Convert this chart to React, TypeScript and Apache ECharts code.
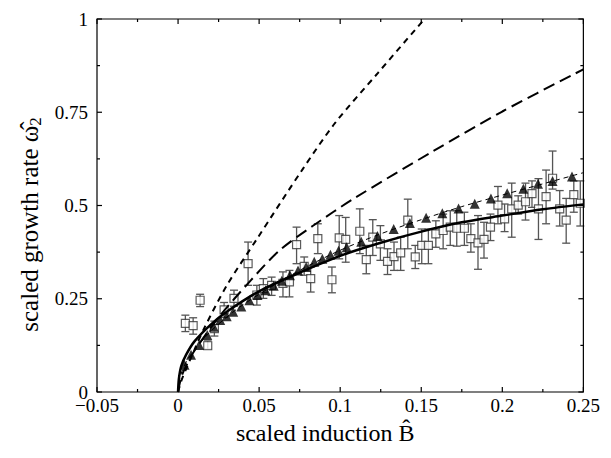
import React, { useEffect, useRef } from "react";
import * as echarts from "echarts";

// ---- data ----
const xTicks = [-0.05, 0, 0.05, 0.1, 0.15, 0.2, 0.25];
const yTicks = [0, 0.25, 0.5, 0.75, 1];

// measured growth rate (open squares) with error bars
const sqB = [0.0045, 0.0093, 0.0136, 0.0183, 0.0224, 0.0284, 0.0345, 0.0432, 0.0486, 0.0526, 0.0577, 0.0647, 0.0687, 0.0731, 0.0778, 0.0818, 0.0862, 0.0949, 0.0994, 0.1034, 0.1121, 0.1161, 0.1201, 0.1248, 0.1292, 0.1332, 0.1373, 0.1417, 0.1463, 0.1503, 0.1544, 0.159, 0.1635, 0.1679, 0.1719, 0.1766, 0.1806, 0.185, 0.1887, 0.1927, 0.1973, 0.2014, 0.2058, 0.2098, 0.2143, 0.2183, 0.2223, 0.227, 0.231, 0.2354, 0.2394, 0.2441, 0.2481];
const sqW = [0.184, 0.178, 0.246, 0.124, 0.170, 0.220, 0.251, 0.344, 0.260, 0.277, 0.286, 0.291, 0.295, 0.395, 0.337, 0.304, 0.411, 0.301, 0.413, 0.409, 0.431, 0.355, 0.415, 0.397, 0.350, 0.363, 0.373, 0.461, 0.362, 0.393, 0.393, 0.424, 0.433, 0.442, 0.439, 0.439, 0.411, 0.400, 0.409, 0.442, 0.501, 0.464, 0.491, 0.501, 0.510, 0.532, 0.491, 0.524, 0.573, 0.491, 0.461, 0.529, 0.506];
const sqLo = [0.162, 0.155, 0.229, 0.115, 0.150, 0.200, 0.230, 0.286, 0.233, 0.251, 0.259, 0.255, 0.255, 0.344, 0.313, 0.268, 0.371, 0.266, 0.357, 0.348, 0.371, 0.317, 0.366, 0.353, 0.315, 0.326, 0.326, 0.384, 0.331, 0.344, 0.344, 0.388, 0.384, 0.393, 0.391, 0.393, 0.375, 0.329, 0.359, 0.406, 0.451, 0.430, 0.415, 0.477, 0.461, 0.495, 0.409, 0.451, 0.544, 0.445, 0.399, 0.482, 0.445];
const sqHi = [0.206, 0.199, 0.262, 0.137, 0.190, 0.240, 0.273, 0.402, 0.286, 0.304, 0.308, 0.322, 0.326, 0.442, 0.362, 0.335, 0.451, 0.335, 0.473, 0.468, 0.491, 0.393, 0.462, 0.446, 0.384, 0.402, 0.415, 0.517, 0.393, 0.437, 0.437, 0.459, 0.477, 0.486, 0.486, 0.482, 0.451, 0.473, 0.455, 0.477, 0.551, 0.504, 0.560, 0.526, 0.560, 0.566, 0.572, 0.595, 0.646, 0.540, 0.519, 0.566, 0.566];

// simulation (filled triangles)
const triB = [0.004, 0.008, 0.013, 0.018, 0.022, 0.026, 0.03, 0.034, 0.039, 0.044, 0.049, 0.054, 0.059, 0.064, 0.069, 0.074, 0.079, 0.084, 0.089, 0.094, 0.099, 0.104, 0.113, 0.123, 0.133, 0.143, 0.153, 0.163, 0.173, 0.183, 0.193, 0.203, 0.213, 0.222, 0.231, 0.243];
const triW = [0.073, 0.100, 0.126, 0.153, 0.175, 0.193, 0.203, 0.215, 0.229, 0.246, 0.260, 0.273, 0.285, 0.298, 0.313, 0.326, 0.335, 0.349, 0.357, 0.368, 0.379, 0.388, 0.403, 0.418, 0.437, 0.453, 0.467, 0.479, 0.492, 0.505, 0.519, 0.533, 0.545, 0.558, 0.566, 0.578];

// thin dashed curve through the triangles
const thinB = [0, 0.001, 0.003, 0.006, 0.01, 0.02, 0.035, 0.05, 0.075, 0.1, 0.125, 0.15, 0.175, 0.2, 0.225, 0.25];
const thinW = [0, 0.035, 0.062, 0.088, 0.112, 0.162, 0.218, 0.262, 0.326, 0.38, 0.424, 0.462, 0.497, 0.528, 0.558, 0.588];

// solid thick curve
const solidB = [0, 0.0005, 0.002, 0.005, 0.01, 0.02, 0.03, 0.05, 0.075, 0.1, 0.125, 0.15, 0.175, 0.2, 0.225, 0.25];
const solidW = [0, 0.035, 0.07, 0.1, 0.135, 0.18, 0.215, 0.27, 0.32, 0.365, 0.4, 0.43, 0.455, 0.473, 0.49, 0.503];

// short-dash steep curve
const shortB = [0, 0.002, 0.005, 0.01, 0.016, 0.03, 0.0486, 0.0768, 0.097, 0.1232, 0.152];
const shortW = [0, 0.03, 0.062, 0.112, 0.17, 0.285, 0.41, 0.597, 0.722, 0.855, 1.0];

// long-dash curve
const longB = [0, 0.002, 0.005, 0.01, 0.025, 0.045, 0.0627, 0.083, 0.109, 0.1575, 0.2, 0.25];
const longW = [0, 0.04, 0.07, 0.11, 0.2, 0.3, 0.38, 0.445, 0.52, 0.646, 0.752, 0.865];

const FONT = "Liberation Serif";

const zip = (a: number[], b: number[]) => a.map((v, i) => [v, b[i]]);

export default function App() {
  const ref = useRef<HTMLDivElement>(null);
  useEffect(() => {
    if (!ref.current) return;
    const chart = echarts.init(ref.current, undefined, { renderer: "svg" });
    const fmtX = (v: number) => {
      const r = Math.round(v * 1000) / 1000;
      return r < 0 ? "\u2212" + Math.abs(r) : String(r);
    };
    const fmtY = (v: number) => String(Math.round(v * 1000) / 1000);
    const axisCommon = {
      axisLine: { show: false, onZero: false },
      axisTick: { show: false },
      minorTick: { show: false },
      splitLine: { show: false },
    };
    const errData = sqB.map((b, i) => [b, sqLo[i], sqHi[i]]);

    // frame with mirrored inward ticks, drawn through the axes' own scales
    const frameRender = (params: any, api: any) => {
      const xa = xTicks[0], xb = xTicks[xTicks.length - 1];
      const ya = yTicks[0], yb = yTicks[yTicks.length - 1];
      const bl = api.coord([xa, ya]);
      const tr = api.coord([xb, yb]);
      const st = { stroke: "#000", lineWidth: 1.2, fill: "none" };
      const kids: any[] = [
        { type: "rect", shape: { x: bl[0], y: tr[1], width: tr[0] - bl[0], height: bl[1] - tr[1] }, style: st },
      ];
      const xVals: [number, number][] = [];
      xTicks.forEach((v, i) => {
        xVals.push([v, 5]);
        if (i < xTicks.length - 1) xVals.push([(v + xTicks[i + 1]) / 2, 3]);
      });
      xVals.forEach(([v, len]) => {
        const px = api.coord([v, ya])[0];
        kids.push({ type: "line", shape: { x1: px, y1: bl[1], x2: px, y2: bl[1] - len }, style: st });
        kids.push({ type: "line", shape: { x1: px, y1: tr[1], x2: px, y2: tr[1] + len }, style: st });
      });
      const yVals: [number, number][] = [];
      yTicks.forEach((v, i) => {
        yVals.push([v, 5]);
        if (i < yTicks.length - 1) yVals.push([(v + yTicks[i + 1]) / 2, 3]);
      });
      yVals.forEach(([v, len]) => {
        const py = api.coord([xa, v])[1];
        kids.push({ type: "line", shape: { x1: bl[0], y1: py, x2: bl[0] + len, y2: py }, style: st });
        kids.push({ type: "line", shape: { x1: tr[0], y1: py, x2: tr[0] - len, y2: py }, style: st });
      });
      return { type: "group", children: kids };
    };

    chart.setOption({
      animation: false,
      backgroundColor: "#fff",
      grid: { left: 89, right: 10, top: 11, bottom: 56, containLabel: false },
      xAxis: {
        type: "value",
        min: xTicks[0],
        max: xTicks[xTicks.length - 1],
        interval: 0.05,
        position: "bottom",
        ...axisCommon,
        axisLabel: { formatter: fmtX, color: "#000", fontFamily: FONT, fontSize: 19, margin: 4 },
        name: "scaled induction B\u0302",
        nameLocation: "middle",
        nameGap: 29,
        nameTextStyle: { color: "#000", fontFamily: FONT, fontSize: 24, padding: [0, 30, 0, 0] },
      },
      yAxis: {
        type: "value",
        min: yTicks[0],
        max: yTicks[yTicks.length - 1],
        interval: 0.25,
        position: "left",
        ...axisCommon,
        axisLabel: { formatter: fmtY, color: "#000", fontFamily: FONT, fontSize: 19, margin: 9 },
        name: "{a|scaled growth rate \u03C9\u0302}{s|2}",
        nameLocation: "middle",
        nameGap: 52,
        nameTextStyle: {
          color: "#000",
          fontFamily: FONT,
          fontSize: 25,
          padding: [0, 38, 0, 0],
          rich: {
            a: { fontFamily: FONT, fontSize: 25, color: "#000" },
            s: { fontFamily: FONT, fontSize: 17, color: "#000", padding: [12, 0, 0, 0] },
          },
        },
      },
      series: [
        {
          type: "custom",
          name: "frame",
          z: 10,
          silent: true,
          clip: false,
          data: [[0, 0]],
          renderItem: frameRender,
        },
        {
          type: "custom",
          name: "errors",
          z: 2,
          data: errData,
          renderItem: (params: any, api: any) => {
            const x = api.value(0);
            const lo = api.coord([x, api.value(1)]);
            const hi = api.coord([x, api.value(2)]);
            const hw = 4;
            const st = { stroke: "#555", lineWidth: 1.3 };
            return {
              type: "group",
              children: [
                { type: "line", shape: { x1: lo[0], y1: lo[1], x2: hi[0], y2: hi[1] }, style: st },
                { type: "line", shape: { x1: lo[0] - hw, y1: lo[1], x2: lo[0] + hw, y2: lo[1] }, style: st },
                { type: "line", shape: { x1: hi[0] - hw, y1: hi[1], x2: hi[0] + hw, y2: hi[1] }, style: st },
              ],
            };
          },
        },
        {
          type: "scatter",
          name: "experiment",
          z: 3,
          symbol: "rect",
          symbolSize: 8,
          itemStyle: { color: "#fff", borderColor: "#333", borderWidth: 1.2 },
          data: zip(sqB, sqW),
        },
        {
          type: "line",
          name: "short dash",
          z: 4,
          showSymbol: false,
          smooth: 0.3,
          lineStyle: { color: "#000", width: 2, type: [6, 5] },
          data: zip(shortB, shortW),
        },
        {
          type: "line",
          name: "long dash",
          z: 4,
          showSymbol: false,
          smooth: 0.3,
          lineStyle: { color: "#000", width: 2, type: [12, 6] },
          data: zip(longB, longW),
        },
        {
          type: "line",
          name: "thin dash",
          z: 4,
          showSymbol: false,
          smooth: 0.3,
          lineStyle: { color: "#000", width: 1, type: [5, 4] },
          data: zip(thinB, thinW),
        },
        {
          type: "line",
          name: "solid",
          z: 5,
          showSymbol: false,
          smooth: 0.3,
          lineStyle: { color: "#000", width: 2.5 },
          data: zip(solidB, solidW),
        },
        {
          type: "scatter",
          name: "simulation",
          z: 6,
          symbol: "triangle",
          symbolSize: 10,
          itemStyle: { color: "#000" },
          data: zip(triB, triW),
        },
      ],
    });
    return () => chart.dispose();
  }, []);
  return <div ref={ref} style={{ width: 595, height: 442 }} />;
}
